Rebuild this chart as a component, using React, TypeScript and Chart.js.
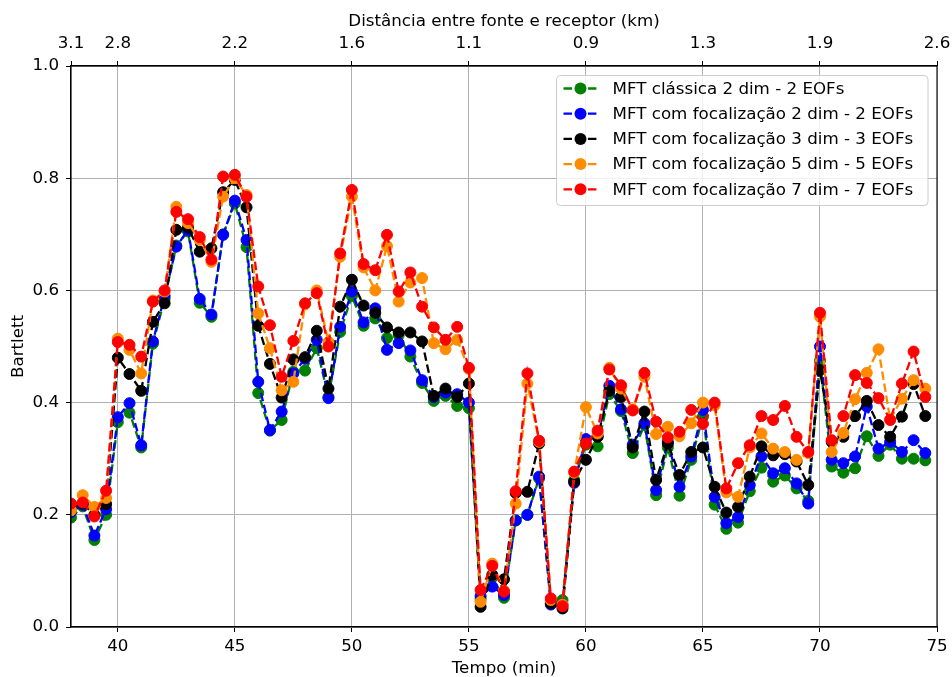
import React, { useEffect, useRef } from 'react';
import { Chart, registerables } from 'chart.js';

Chart.register(...registerables);

// ---------------- data ----------------
const tempo = [
  38, 38.5, 39, 39.5, 40, 40.5, 41, 41.5, 42, 42.5, 43, 43.5, 44, 44.5, 45, 45.5,
  46, 46.5, 47, 47.5, 48, 48.5, 49, 49.5, 50, 50.5, 51, 51.5, 52, 52.5, 53, 53.5,
  54, 54.5, 55, 55.5, 56, 56.5, 57, 57.5, 58, 58.5, 59, 59.5, 60, 60.5, 61, 61.5,
  62, 62.5, 63, 63.5, 64, 64.5, 65, 65.5, 66, 66.5, 67, 67.5, 68, 68.5, 69, 69.5,
  70, 70.5, 71, 71.5, 72, 72.5, 73, 73.5, 74, 74.5,
];

const classica2 = [
  0.195, 0.215, 0.155, 0.2, 0.365, 0.382, 0.32, 0.505, 0.585, 0.68, 0.705, 0.578, 0.553, 0.7, 0.755, 0.677,
  0.417, 0.35, 0.369, 0.455, 0.457, 0.497, 0.41, 0.526, 0.59, 0.537, 0.55, 0.515, 0.52, 0.482, 0.435, 0.403,
  0.412, 0.394, 0.39, 0.05, 0.088, 0.052, 0.19, 0.2, 0.265, 0.045, 0.048, 0.262, 0.325, 0.322, 0.415, 0.385,
  0.31, 0.36, 0.235, 0.32, 0.234, 0.298, 0.375, 0.218, 0.175, 0.186, 0.242, 0.284, 0.259, 0.27, 0.247, 0.225,
  0.475, 0.286, 0.275, 0.283, 0.34, 0.305, 0.325, 0.3, 0.3, 0.297,
];

const focal2 = [
  0.205, 0.218, 0.163, 0.21, 0.374, 0.399, 0.324, 0.509, 0.59, 0.678, 0.708, 0.585, 0.557, 0.699, 0.76, 0.69,
  0.437, 0.351, 0.384, 0.452, 0.478, 0.512, 0.408, 0.535, 0.598, 0.543, 0.568, 0.494, 0.506, 0.493, 0.44, 0.41,
  0.418, 0.415, 0.4, 0.055, 0.072, 0.057, 0.19, 0.2, 0.268, 0.04, 0.04, 0.257, 0.335, 0.34, 0.43, 0.388,
  0.325, 0.363, 0.244, 0.33, 0.25, 0.304, 0.387, 0.232, 0.185, 0.196, 0.253, 0.304, 0.274, 0.283, 0.256, 0.22,
  0.5, 0.298, 0.292, 0.304, 0.393, 0.318, 0.33, 0.312, 0.333, 0.31,
];

const focal3 = [
  0.217, 0.22, 0.2, 0.219, 0.48, 0.451, 0.421, 0.544, 0.577, 0.708, 0.712, 0.669, 0.675, 0.775, 0.797, 0.748,
  0.537, 0.469, 0.409, 0.477, 0.481, 0.528, 0.425, 0.571, 0.619, 0.573, 0.56, 0.534, 0.525, 0.525, 0.509, 0.412,
  0.425, 0.41, 0.434, 0.036, 0.093, 0.085, 0.239, 0.241, 0.327, 0.042, 0.033, 0.259, 0.298, 0.339, 0.421, 0.41,
  0.32, 0.384, 0.262, 0.327, 0.271, 0.312, 0.32, 0.25, 0.204, 0.214, 0.268, 0.322, 0.306, 0.308, 0.295, 0.253,
  0.458, 0.33, 0.339, 0.376, 0.403, 0.36, 0.339, 0.375, 0.433, 0.376,
];

const focal5 = [
  0.208, 0.235, 0.214, 0.23, 0.514, 0.494, 0.452, 0.582, 0.598, 0.749, 0.72, 0.69, 0.651, 0.767, 0.8, 0.77,
  0.559, 0.497, 0.422, 0.437, 0.575, 0.6, 0.508, 0.66, 0.767, 0.641, 0.6, 0.679, 0.58, 0.614, 0.622, 0.506,
  0.495, 0.512, 0.46, 0.045, 0.113, 0.065, 0.22, 0.434, 0.33, 0.048, 0.04, 0.275, 0.392, 0.345, 0.462, 0.425,
  0.388, 0.446, 0.344, 0.357, 0.34, 0.363, 0.4, 0.395, 0.24, 0.232, 0.32, 0.345, 0.318, 0.312, 0.298, 0.31,
  0.553, 0.312, 0.346, 0.406, 0.453, 0.495, 0.37, 0.407, 0.44, 0.425,
];

const focal7 = [
  0.22, 0.222, 0.197, 0.243, 0.508, 0.503, 0.482, 0.58, 0.6, 0.74, 0.727, 0.695, 0.655, 0.803, 0.806, 0.767,
  0.607, 0.538, 0.446, 0.51, 0.577, 0.595, 0.5, 0.666, 0.779, 0.647, 0.636, 0.699, 0.598, 0.632, 0.571, 0.534,
  0.512, 0.535, 0.462, 0.066, 0.109, 0.063, 0.242, 0.452, 0.332, 0.051, 0.037, 0.277, 0.327, 0.35, 0.459, 0.431,
  0.386, 0.453, 0.366, 0.338, 0.348, 0.387, 0.362, 0.4, 0.247, 0.292, 0.324, 0.376, 0.369, 0.394, 0.339, 0.312,
  0.56, 0.333, 0.376, 0.449, 0.435, 0.408, 0.369, 0.434, 0.491, 0.41,
];

const seriesLabels = [
  'MFT clássica 2 dim - 2 EOFs',
  'MFT com focalização 2 dim - 2 EOFs',
  'MFT com focalização 3 dim - 3 EOFs',
  'MFT com focalização 5 dim - 5 EOFs',
  'MFT com focalização 7 dim - 7 EOFs',
];
const seriesColors = ['#008000', '#0000ff', '#000000', '#ff8c00', '#ff0000'];

const bottomTicks = [40, 45, 50, 55, 60, 65, 70, 75];
const topTickPositions = [38, 40, 45, 50, 55, 60, 65, 70, 75];
const topTickLabels = ['3.1', '2.8', '2.2', '1.6', '1.1', '0.9', '1.3', '1.9', '2.6'];
const yTicks = [0, 0.2, 0.4, 0.6, 0.8, 1.0];

// ---------------- style ----------------
const FONT_FAMILY = "'DejaVu Sans', sans-serif";
const FS = 16.7;
const DASH = [8.5, 3.7];
const LINE_W = 2.3;

const frameAndLegend = {
  id: 'frameAndLegend',
  afterDatasetsDraw(chart: any) {
    const { ctx, chartArea: a } = chart;
    ctx.save();
    ctx.strokeStyle = '#000';
    ctx.lineWidth = 1.1;
    ctx.setLineDash([]);
    ctx.strokeRect(a.left, a.top, a.right - a.left, a.bottom - a.top);
    ctx.restore();
  },
  afterDraw(chart: any) {
    const { ctx, chartArea: a } = chart;
    const x0 = a.right - 380.5;
    const y0 = a.top + 9.5;
    const w = 371.5;
    const h = 130;
    ctx.save();
    ctx.beginPath();
    ctx.roundRect(x0, y0, w, h, 4);
    ctx.fillStyle = 'rgba(255,255,255,0.8)';
    ctx.fill();
    ctx.strokeStyle = '#cccccc';
    ctx.lineWidth = 1;
    ctx.stroke();
    chart.data.datasets.forEach((ds: any, i: number) => {
      const cy = y0 + 13 + i * 25.2;
      const lx = x0 + 7;
      ctx.strokeStyle = ds.borderColor;
      ctx.lineWidth = LINE_W;
      ctx.setLineDash(DASH);
      ctx.beginPath();
      ctx.moveTo(lx, cy);
      ctx.lineTo(lx + 34, cy);
      ctx.stroke();
      ctx.setLineDash([]);
      ctx.beginPath();
      ctx.arc(lx + 17, cy, 6, 0, Math.PI * 2);
      ctx.fillStyle = ds.borderColor;
      ctx.fill();
      ctx.fillStyle = '#000';
      ctx.font = `${FS}px ${FONT_FAMILY}`;
      ctx.textBaseline = 'middle';
      ctx.textAlign = 'left';
      ctx.fillText(ds.label, x0 + 56, cy + 1);
    });
    ctx.restore();
  },
};

export default function App() {
  const canvasRef = useRef<HTMLCanvasElement | null>(null);

  useEffect(() => {
    document.body.style.margin = '0';
    document.body.style.overflow = 'hidden';
    const canvas = canvasRef.current;
    if (!canvas) return;
    const allSeries = [classica2, focal2, focal3, focal5, focal7];
    const font = { family: FONT_FAMILY, size: FS };
    const chart = new Chart(canvas, {
      type: 'line',
      data: {
        datasets: allSeries.map((arr, i) => ({
          label: seriesLabels[i],
          data: tempo.map((t, j) => ({ x: t, y: arr[j] })),
          borderColor: seriesColors[i],
          backgroundColor: seriesColors[i],
          pointBackgroundColor: seriesColors[i],
          pointBorderColor: seriesColors[i],
          pointRadius: 5.5,
          pointBorderWidth: 1,
          borderWidth: LINE_W,
          borderDash: DASH,
          tension: 0,
          fill: false,
          clip: 0,
          order: allSeries.length - 1 - i,
        })),
      },
      options: {
        animation: false,
        responsive: true,
        maintainAspectRatio: false,
        devicePixelRatio: 1,
        layout: { padding: 0 },
        plugins: {
          legend: { display: false },
          tooltip: { enabled: false },
        },
        scales: {
          x: {
            type: 'linear',
            position: 'bottom',
            min: 38,
            max: 75,
            afterBuildTicks: (s: any) => {
              s.ticks = bottomTicks.map((v) => ({ value: v }));
            },
            afterFit: (s: any) => {
              s.height = 50;
              s.paddingLeft = 0;
              s.paddingRight = 0;
            },
            ticks: {
              autoSkip: false,
              maxRotation: 0,
              padding: 5,
              color: '#000',
              font,
              callback: (v: any) => String(v),
            },
            grid: { color: '#b0b0b0', lineWidth: 1, tickColor: '#000', tickLength: 5 },
            border: { display: true, color: '#000', width: 1.1 },
            title: {
              display: true,
              text: 'Tempo (min)',
              color: '#000',
              font,
              padding: { top: 0, bottom: -2 },
            },
          },
          x2: {
            type: 'linear',
            position: 'top',
            min: 38,
            max: 75,
            afterBuildTicks: (s: any) => {
              s.ticks = topTickPositions.map((v) => ({ value: v }));
            },
            afterFit: (s: any) => {
              s.height = 66;
              s.paddingLeft = 0;
              s.paddingRight = 0;
            },
            ticks: {
              autoSkip: false,
              maxRotation: 0,
              padding: 7,
              color: '#000',
              font,
              callback: (v: any) => {
                const k = topTickPositions.indexOf(v);
                return k >= 0 ? topTickLabels[k] : '';
              },
            },
            grid: { drawOnChartArea: false, color: '#000', tickColor: '#000', tickLength: 5 },
            border: { display: true, color: '#000', width: 1.1 },
            title: {
              display: true,
              text: 'Distância entre fonte e receptor (km)',
              color: '#000',
              font,
              padding: { top: 12, bottom: 0 },
            },
          },
          y: {
            type: 'linear',
            position: 'left',
            min: 0,
            max: 1,
            afterBuildTicks: (s: any) => {
              s.ticks = yTicks.map((v) => ({ value: v }));
            },
            afterFit: (s: any) => {
              s.width = 71;
            },
            ticks: {
              padding: 7,
              color: '#000',
              font,
              callback: (v: any) => Number(v).toFixed(1),
            },
            grid: { color: '#b0b0b0', lineWidth: 1, tickColor: '#000', tickLength: 5 },
            border: { display: true, color: '#000', width: 1.1 },
            title: {
              display: true,
              text: 'Bartlett',
              color: '#000',
              font,
              padding: { top: 8.5, bottom: 0 },
            },
          },
          yR: {
            type: 'linear',
            position: 'right',
            min: 0,
            max: 1,
            afterFit: (s: any) => {
              s.width = 15;
            },
            ticks: { display: false },
            grid: { drawOnChartArea: false, drawTicks: false },
            border: { display: false },
          },
        },
      },
      plugins: [frameAndLegend],
    } as any);
    return () => chart.destroy();
  }, []);

  return (
    <div style={{ position: 'relative', width: 952, height: 677 }}>
      <canvas ref={canvasRef} />
    </div>
  );
}
